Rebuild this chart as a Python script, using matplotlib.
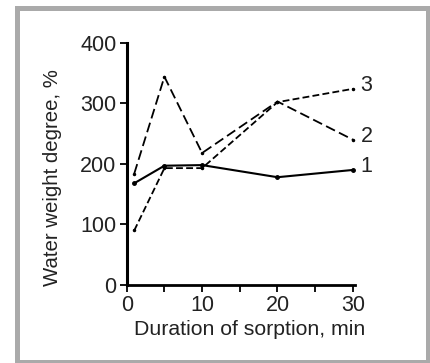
import matplotlib
matplotlib.use('Agg')
import matplotlib.pyplot as plt
from matplotlib.patches import Rectangle

# sorption time, min
minutes = [1, 5, 10, 20, 30]
curve_1 = [168, 197, 198, 178, 190]
curve_2 = [184, 344, 218, 303, 240]
curve_3 = [90, 193, 193, 302, 324]
curve_names = ['1', '2', '3']

plt.rcParams['font.family'] = ['Liberation Sans', 'DejaVu Sans']

fig = plt.figure(figsize=(4.31, 3.63), dpi=100)
# grey frame round the panel
fig.patches.append(Rectangle((17.5 / 431, 1.5 / 363), 411 / 431, 354 / 363,
                             transform=fig.transFigure, fill=False,
                             edgecolor='#aaaaaa', linewidth=3.6))

ax = fig.add_axes([0.294, 0.215, 0.53, 0.667])
ax.plot(minutes, curve_1, color='black', lw=1.5, marker='o', ms=2.5)
ax.plot(minutes, curve_2, color='black', lw=1.3, dashes=(5.5, 2.5), marker='.', ms=3)
ax.plot(minutes, curve_3, color='black', lw=1.3, dashes=(3.8, 1.8), marker='.', ms=3)

for name, ys in zip(curve_names, [curve_1, curve_2, curve_3]):
    ax.text(31.0, ys[-1] + 5, name, fontsize=15.5, va='center', ha='left',
            color='#222222', clip_on=False)

ax.set_xlim(0, 30.3)
ax.set_ylim(0, 400)
ax.set_xticks([0, 5, 10, 15, 20, 25, 30])
ax.set_xticklabels(['0', '', '10', '', '20', '', '30'])
ax.set_yticks([0, 100, 200, 300, 400])
ax.spines['top'].set_visible(False)
ax.spines['right'].set_visible(False)
ax.spines['left'].set_linewidth(2.2)
ax.spines['bottom'].set_linewidth(2.0)
ax.tick_params(direction='out', length=5, width=1.3, labelsize=15.5,
               labelcolor='#222222', pad=2.5)
ax.set_xlabel('Duration of sorption, min', fontsize=15.3, color='#222222',
              va='center')
ax.xaxis.set_label_coords(0.54, -0.186)
ax.set_ylabel('Water weight degree, %', fontsize=14.7, color='#222222',
              va='center')
ax.yaxis.set_label_coords(-0.323, 0.444)

plt.savefig('out.png', dpi=100)
plt.close()
